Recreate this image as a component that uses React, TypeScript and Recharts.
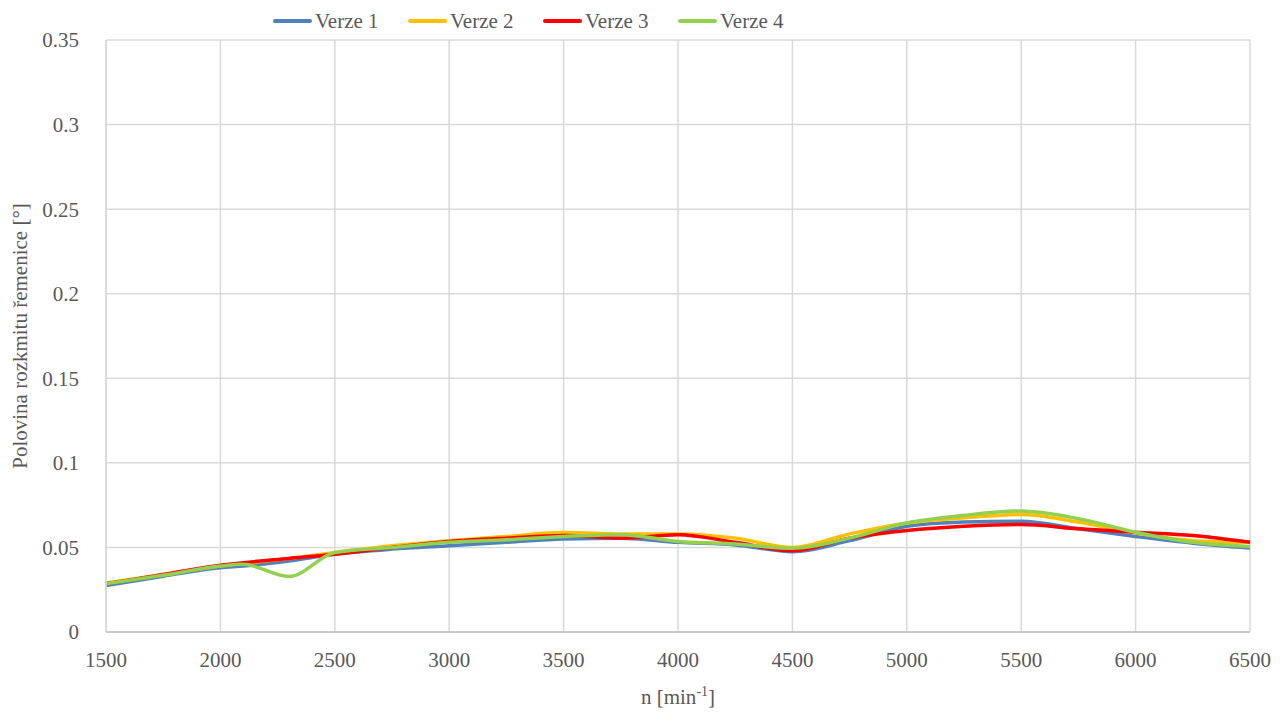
import { CartesianGrid, Line, LineChart, XAxis, YAxis } from "recharts"

const rpm = [1500, 1750, 2000, 2100, 2300, 2500, 2750, 3000, 3250, 3500, 3750, 4000, 4250, 4500, 4750, 5000, 5250, 5500, 5750, 6000, 6250, 6500]
const verze1 = [0.0275, 0.033, 0.038, 0.039, 0.042, 0.046, 0.049, 0.051, 0.053, 0.055, 0.0555, 0.053, 0.0515, 0.0475, 0.054, 0.0625, 0.065, 0.0655, 0.061, 0.0565, 0.0525, 0.0497]
const verze2 = [0.029, 0.034, 0.039, 0.0405, 0.0435, 0.047, 0.051, 0.054, 0.0565, 0.0588, 0.058, 0.058, 0.0555, 0.05, 0.058, 0.0645, 0.0675, 0.0695, 0.065, 0.0585, 0.054, 0.053]
const verze3 = [0.0285, 0.034, 0.0395, 0.041, 0.0435, 0.046, 0.05, 0.0535, 0.0555, 0.057, 0.0555, 0.0575, 0.053, 0.048, 0.0555, 0.06, 0.0625, 0.0635, 0.061, 0.059, 0.057, 0.053]
const verze4 = [0.0285, 0.0335, 0.039, 0.04, 0.0328, 0.047, 0.05, 0.053, 0.0545, 0.0565, 0.0575, 0.0535, 0.052, 0.0495, 0.0555, 0.0645, 0.069, 0.0715, 0.067, 0.059, 0.053, 0.0505]

const xTicks = [1500, 2000, 2500, 3000, 3500, 4000, 4500, 5000, 5500, 6000, 6500]
const yTicks = [0, 0.05, 0.1, 0.15, 0.2, 0.25, 0.3, 0.35]
const yTickLabels = ["0", "0.05", "0.1", "0.15", "0.2", "0.25", "0.3", "0.35"]

const series = [
  { key: "v1", name: "Verze 1", color: "#4F81BD" },
  { key: "v2", name: "Verze 2", color: "#FFC000" },
  { key: "v3", name: "Verze 3", color: "#FF0000" },
  { key: "v4", name: "Verze 4", color: "#92D050" },
]

const data = rpm.map((n, i) => ({ n, v1: verze1[i], v2: verze2[i], v3: verze3[i], v4: verze4[i] }))

const font = "'Liberation Serif', 'DejaVu Serif', serif"
const textColor = "#595959"

function TopLegend() {
  return (
    <div
      style={{
        position: "absolute",
        top: 7,
        left: 273,
        display: "flex",
        fontFamily: font,
        fontSize: 21,
        color: textColor,
        lineHeight: "28px",
      }}
    >
      {series.map((s) => (
        <div key={s.key} style={{ display: "flex", alignItems: "center", width: 135 }}>
          <span style={{ display: "inline-block", width: 39, height: 4, background: s.color, borderRadius: 2, marginRight: 3 }} />
          <span>{s.name}</span>
        </div>
      ))}
    </div>
  )
}

function XLabel(props: any) {
  const { viewBox } = props
  const cx = viewBox.x + viewBox.width / 2
  return (
    <text x={cx} y={viewBox.y + 72} textAnchor="middle" fill={textColor} fontSize={21} style={{ fontFamily: font }}>
      n [min
      <tspan dy={-8} fontSize={14}>-1</tspan>
      <tspan dy={8}>]</tspan>
    </text>
  )
}

function YLabel(props: any) {
  const { viewBox } = props
  const cy = viewBox.y + viewBox.height / 2
  const x = 27
  return (
    <text x={x} y={cy} textAnchor="middle" transform={`rotate(-90, ${x}, ${cy})`} fill={textColor} fontSize={21} style={{ fontFamily: font }}>
      Polovina rozkmitu řemenice [°]
    </text>
  )
}

export default function App() {
  return (
    <div style={{ position: "absolute", left: 0, top: 0, width: 1280, height: 713, background: "#fff" }}>
      <LineChart width={1280} height={713} data={data} margin={{ top: 40, right: 30, bottom: 0, left: 0 }}>
        <CartesianGrid stroke="#d9d9d9" strokeWidth={1.5} vertical horizontal />
        <XAxis
          dataKey="n"
          type="number"
          domain={[1500, 6500]}
          ticks={xTicks}
          height={81}
          tickLine={false}
          axisLine={{ stroke: "#bfbfbf", strokeWidth: 1.5 }}
          tick={{ fill: textColor, fontSize: 21, style: { fontFamily: font } }}
          tickMargin={14}
          label={<XLabel />}
        />
        <YAxis
          type="number"
          domain={[0, 0.35]}
          ticks={yTicks}
          width={106}
          tickLine={false}
          axisLine={{ stroke: "#d9d9d9", strokeWidth: 1.5 }}
          tick={{ fill: textColor, fontSize: 21, style: { fontFamily: font } }}
          tickMargin={21}
          tickFormatter={(v: number) => yTickLabels[yTicks.indexOf(v)] ?? String(v)}
          label={<YLabel />}
        />
        {series.map((s) => (
          <Line
            key={s.key}
            type="monotone"
            dataKey={s.key}
            name={s.name}
            stroke={s.color}
            strokeWidth={3.5}
            dot={false}
            isAnimationActive={false}
          />
        ))}
      </LineChart>
      <TopLegend />
    </div>
  )
}
